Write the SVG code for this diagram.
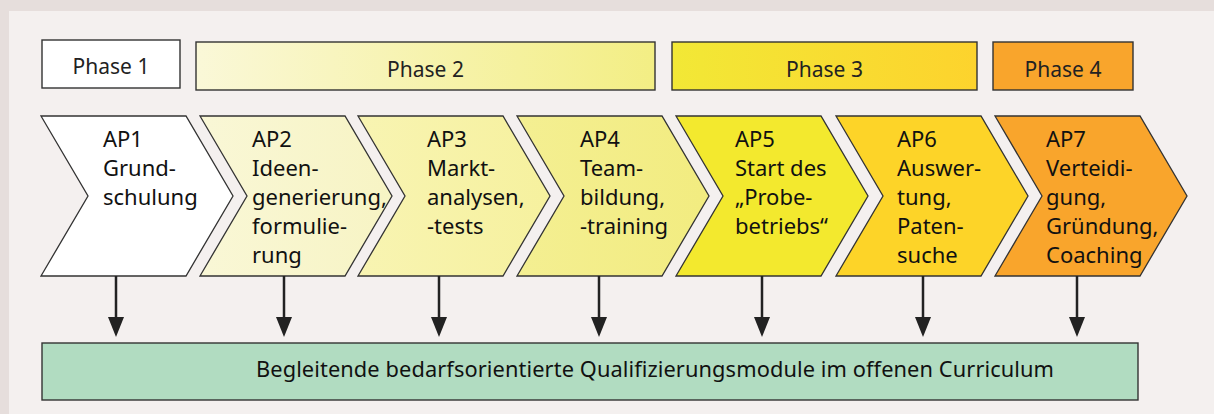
<svg xmlns="http://www.w3.org/2000/svg" width="1214" height="414" viewBox="0 0 1214 414">
  <defs>
    <style>
      .box { stroke: #333; stroke-width: 1.4; }
      .chev { stroke: #333; stroke-width: 1.3; stroke-linejoin: miter; }
      .ph { font-family: "Noto Sans", "Liberation Sans", sans-serif; font-size: 21px; fill: #222; text-anchor: middle; }
      .ap { font-family: "Noto Sans", "Liberation Sans", sans-serif; font-size: 22px; fill: #111; }
      .bt { font-family: "Noto Sans", "Liberation Sans", sans-serif; font-size: 21.8px; fill: #111; }
      .conn { stroke: #222; stroke-width: 2.5; fill: none; }
    </style>
    <linearGradient id="gP2" x1="0" y1="0" x2="1" y2="0">
      <stop offset="0" stop-color="#faf8d8"/>
      <stop offset="1" stop-color="#f3ee84"/>
    </linearGradient>
    <linearGradient id="gP3" x1="0" y1="0" x2="1" y2="0">
      <stop offset="0" stop-color="#f2e836"/>
      <stop offset="1" stop-color="#fdd32d"/>
    </linearGradient>
    <linearGradient id="gA2" x1="0" y1="0" x2="1" y2="0">
      <stop offset="0" stop-color="#f9f7d6"/>
      <stop offset="1" stop-color="#f7f4c4"/>
    </linearGradient>
    <linearGradient id="gA3" x1="0" y1="0" x2="1" y2="0">
      <stop offset="0" stop-color="#f8f4b2"/>
      <stop offset="1" stop-color="#f6f19e"/>
    </linearGradient>
    <linearGradient id="gA4" x1="0" y1="0" x2="1" y2="0">
      <stop offset="0" stop-color="#f4ef92"/>
      <stop offset="1" stop-color="#f2ec80"/>
    </linearGradient>
    <marker id="ah" viewBox="0 0 20 16" refX="13" refY="8" markerWidth="20" markerHeight="16" markerUnits="userSpaceOnUse" orient="auto">
      <path d="M0,0 L20,8 L0,16 Z" fill="#222"/>
    </marker>
  </defs>

  <rect x="0" y="0" width="1214" height="414" fill="#e6dedc"/>
  <rect x="9" y="11" width="1205" height="403" fill="#f4f0ef"/>

  <g id="phase1">
    <rect class="box" x="42" y="40" width="138" height="48" fill="#ffffff"/>
    <text class="ph" x="111" y="74">Phase 1</text>
  </g>
  <g id="phase2">
    <rect class="box" x="196" y="42" width="459" height="48" fill="url(#gP2)"/>
    <text class="ph" x="425.5" y="77">Phase 2</text>
  </g>
  <g id="phase3">
    <rect class="box" x="672" y="42" width="305" height="48" fill="url(#gP3)"/>
    <text class="ph" x="824.5" y="77">Phase 3</text>
  </g>
  <g id="phase4">
    <rect class="box" x="993" y="42" width="140" height="48" fill="#f9a52c"/>
    <text class="ph" x="1063" y="77">Phase 4</text>
  </g>

  <g id="ap1">
    <path class="chev" d="M41,116 L186,116 L233,196 L186,276 L41,276 L88,196 Z" fill="#ffffff"/>
    <text class="ap"><tspan x="103" y="146.5">AP1</tspan><tspan x="103" y="175.5">Grund-</tspan><tspan x="103" y="204.5">schulung</tspan></text>
  </g>
  <g id="ap2">
    <path class="chev" d="M200,116 L345,116 L392,196 L345,276 L200,276 L247,196 Z" fill="url(#gA2)"/>
    <text class="ap"><tspan x="252" y="146.5">AP2</tspan><tspan x="252" y="175.5">Ideen-</tspan><tspan x="252" y="204.5">generierung,</tspan><tspan x="252" y="233.5">formulie-</tspan><tspan x="252" y="262.5">rung</tspan></text>
  </g>
  <g id="ap3">
    <path class="chev" d="M358,116 L503,116 L550,196 L503,276 L358,276 L405,196 Z" fill="url(#gA3)"/>
    <text class="ap"><tspan x="427" y="146.5">AP3</tspan><tspan x="427" y="175.5">Markt-</tspan><tspan x="427" y="204.5">analysen,</tspan><tspan x="427" y="233.5">-tests</tspan></text>
  </g>
  <g id="ap4">
    <path class="chev" d="M517,116 L662,116 L709,196 L662,276 L517,276 L564,196 Z" fill="url(#gA4)"/>
    <text class="ap"><tspan x="580" y="146.5">AP4</tspan><tspan x="580" y="175.5">Team-</tspan><tspan x="580" y="204.5">bildung,</tspan><tspan x="580" y="233.5">-training</tspan></text>
  </g>
  <g id="ap5">
    <path class="chev" d="M676,116 L821,116 L868,196 L821,276 L676,276 L723,196 Z" fill="#f3e92e"/>
    <text class="ap"><tspan x="735" y="146.5">AP5</tspan><tspan x="735" y="175.5">Start des</tspan><tspan x="735" y="204.5">„Probe-</tspan><tspan x="735" y="233.5">betriebs“</tspan></text>
  </g>
  <g id="ap6">
    <path class="chev" d="M836,116 L981,116 L1028,196 L981,276 L836,276 L883,196 Z" fill="#fdd428"/>
    <text class="ap"><tspan x="897" y="146.5">AP6</tspan><tspan x="897" y="175.5">Auswer-</tspan><tspan x="897" y="204.5">tung,</tspan><tspan x="897" y="233.5">Paten-</tspan><tspan x="897" y="262.5">suche</tspan></text>
  </g>
  <g id="ap7">
    <path class="chev" d="M995,116 L1140,116 L1187,196 L1140,276 L995,276 L1042,196 Z" fill="#f9a52c"/>
    <text class="ap"><tspan x="1046" y="146.5">AP7</tspan><tspan x="1046" y="175.5">Verteidi-</tspan><tspan x="1046" y="204.5">gung,</tspan><tspan x="1046" y="233.5">Gründung,</tspan><tspan x="1046" y="262.5">Coaching</tspan></text>
  </g>

  <g id="connectors">
    <line class="conn" x1="116" y1="276" x2="116" y2="330" marker-end="url(#ah)"/>
    <line class="conn" x1="284" y1="276" x2="284" y2="330" marker-end="url(#ah)"/>
    <line class="conn" x1="439" y1="276" x2="439" y2="330" marker-end="url(#ah)"/>
    <line class="conn" x1="599" y1="276" x2="599" y2="330" marker-end="url(#ah)"/>
    <line class="conn" x1="762" y1="276" x2="762" y2="330" marker-end="url(#ah)"/>
    <line class="conn" x1="923" y1="276" x2="923" y2="330" marker-end="url(#ah)"/>
    <line class="conn" x1="1077" y1="276" x2="1077" y2="330" marker-end="url(#ah)"/>
  </g>

  <g id="module">
    <rect class="box" x="42" y="343" width="1096" height="57" fill="#b1dcc1"/>
    <text class="bt" x="256" y="377" textLength="798">Begleitende bedarfsorientierte Qualifizierungsmodule im offenen Curriculum</text>
  </g>
</svg>
